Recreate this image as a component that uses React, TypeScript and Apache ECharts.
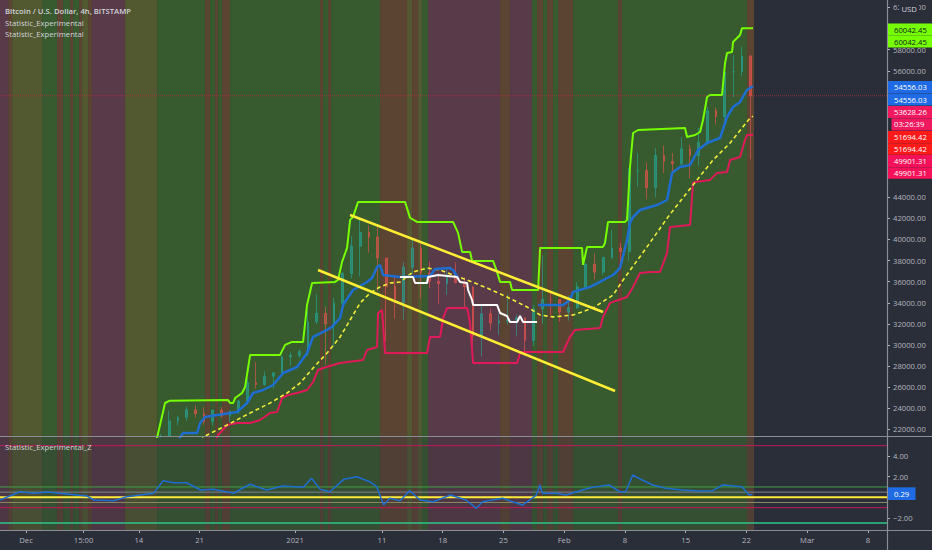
import React, { useEffect, useRef } from "react";
import * as echarts from "echarts";

// ---------- DATA ----------
// Daily OHLC rows [open, high, low, close], starting 2020-11-28
const candleStart = "2020-11-28";
const ohlc: number[][] = [
  [17150, 17880, 16880, 17720], [17720, 18350, 17550, 18180], [18180, 19860, 18180, 19700],
  [19700, 19920, 18120, 18780], [18780, 19300, 18340, 19220], [19220, 19570, 18930, 19440],
  [19440, 19510, 18580, 18650], [18650, 19170, 18500, 19150], [19150, 19420, 18900, 19360],
  [19360, 19410, 18920, 19170], [19170, 19290, 18200, 18320], [18320, 18640, 17650, 18550],
  [18550, 18560, 17910, 18250], [18250, 18290, 17570, 18040], [18040, 18950, 18020, 18800],
  [18800, 19410, 18710, 19170], [19170, 19350, 19000, 19270], [19270, 19570, 19060, 19440],
  [19440, 21560, 19300, 21350], [21350, 23770, 21230, 22800], [22800, 23290, 22350, 23130],
  [23130, 24170, 22800, 23860], [23860, 24280, 23080, 23480], [23480, 24100, 22420, 22740],
  [22740, 23850, 22350, 23820], [23820, 24100, 23070, 23250], [23250, 23790, 22700, 23720],
  [23720, 24790, 23450, 24690], [24690, 26850, 24520, 26440], [26440, 28380, 25850, 26250],
  [26250, 27500, 26100, 27040], [27040, 27390, 25850, 27360], [27360, 28990, 27320, 28860],
  [28860, 29300, 28010, 28990], [28990, 29600, 28800, 29370], [29370, 33300, 28950, 32190],
  [32190, 34800, 32000, 33000], [33000, 33600, 28130, 31990], [31990, 34450, 29900, 33950],
  [33950, 36940, 33300, 36770], [36770, 40300, 36300, 39370], [39370, 41950, 36500, 40670],
  [40670, 41350, 38750, 40240], [40240, 41380, 35100, 38240], [38240, 38250, 30300, 35540],
  [35540, 36600, 32500, 34010], [34010, 37850, 32400, 37370], [37370, 40100, 36700, 39180],
  [39180, 39700, 34400, 36830], [36830, 37900, 35400, 36030], [36030, 36800, 33850, 35820],
  [35820, 37400, 34750, 36610], [36610, 37850, 35850, 35920], [35920, 36400, 33400, 35490],
  [35490, 35600, 30000, 30850], [30850, 33800, 28900, 32950], [32950, 33450, 31400, 32080],
  [32080, 32900, 30950, 32280], [32280, 34800, 31900, 32370], [32370, 32900, 30800, 32570],
  [32570, 32600, 29200, 30430], [30430, 33800, 29900, 33420], [33420, 38500, 31950, 34320],
  [34320, 34900, 32850, 34300], [34300, 34350, 32200, 33110], [33110, 34700, 32300, 33540],
  [33540, 35950, 33420, 35510], [35510, 37700, 35400, 37670], [37670, 38700, 36200, 36900],
  [36900, 38300, 36600, 38290], [38290, 40900, 38150, 39190], [39190, 39700, 37400, 38860],
  [38860, 46800, 37950, 46450], [46450, 48200, 45000, 46550], [46550, 47300, 43800, 44900],
  [44900, 48700, 44000, 47970], [47970, 48900, 46300, 47400], [47400, 48200, 46250, 47180],
  [47180, 49700, 47050, 48600], [48600, 49000, 45800, 47950], [47950, 50600, 47000, 49200],
  [49200, 52600, 48950, 52200], [52200, 52500, 50900, 51650], [51650, 56300, 50750, 55900],
  [55900, 57500, 53500, 55900], [55900, 58300, 55500, 57400], [57400, 57500, 47600, 53628.26],
];

// Indicator lines: [day since 2021-01-01, price]
const upperBand: number[][] = [
  [-16.1, 20500], [-14.98, 24494], [-14.5, 24700], [-7.72, 24778], [-7.49, 24494], [-7.14, 24494],
  [-6.91, 24968], [-6.11, 25442], [-5.76, 26011], [-5.18, 29055], [-1.73, 29055], [-1.15, 30003],
  [-0.35, 30288], [0.92, 30288], [1.38, 33797], [1.96, 35883], [4.61, 35978], [4.95, 36168],
  [5.41, 37875], [5.99, 39202], [6.34, 41858], [6.68, 42142], [7.26, 43565], [12.67, 43565],
  [13.25, 42047], [14.06, 41668], [18.2, 41668], [18.78, 40625], [19.24, 38823], [20.16, 38823],
  [20.39, 37970], [22.81, 37970], [23.27, 36927], [23.62, 35978], [24.77, 35978], [25.0, 35220],
  [28.0, 35220], [28.23, 39202], [33.06, 39202], [33.18, 37590], [33.64, 39297], [35.48, 39297],
  [35.71, 39676], [36.06, 41668], [38.02, 41668], [38.25, 41858], [38.59, 46874], [38.94, 50098],
  [39.52, 50383], [44.93, 50572], [45.16, 49719], [46.08, 49908], [46.66, 50193], [47.0, 51331],
  [47.47, 53512], [47.81, 53702], [49.19, 53702], [49.54, 56737], [49.77, 57685], [50.35, 57780],
  [50.46, 58728], [51.27, 59392], [51.5, 60042.45], [52.76, 60042.45],
];

const basisLine: (number | null)[][] = [
  [-13.82, 20528], [-12.9, 21649], [-11.29, 21649], [-10.94, 22597], [-10.37, 23166], [-8.99, 23356],
  [-6.68, 23640], [-5.53, 24494], [-4.84, 25442], [-3.69, 25727], [-2.53, 26201], [-1.38, 27339],
  [0.23, 27908], [1.38, 29236], [2.07, 30762], [3.69, 31426], [4.26, 31711], [5.18, 32554],
  [5.53, 33788], [6.68, 35210], [8.29, 35969], [8.87, 36348], [9.45, 37391], [9.79, 37581],
  [10.14, 36633], [12.1, 36443], [15.55, 36538], [16.13, 37201], [17.86, 37296], [18.2, 37107],
  [18.78, 36348], [23.0, null], [28.0, 33797], [30.88, 33797], [31.68, 34271], [32.03, 35030],
  [32.83, 35220], [33.99, 35504], [35.14, 35978], [35.94, 36348], [36.64, 36633], [37.44, 37296],
  [38.25, 39952], [38.59, 41564], [38.94, 42133], [39.75, 42797], [41.71, 43271], [42.86, 43745],
  [43.43, 46306], [44.35, 46875], [45.51, 47064], [46.43, 48487], [47.47, 49151], [48.96, 49625],
  [49.77, 51616], [50.46, 52565], [51.27, 53039], [52.07, 54177], [52.76, 54556.03],
];

const basisAlt: number[][] = [
  [12.1, 36443], [13.59, 36443], [13.82, 35874], [15.21, 35874], [15.32, 36443], [16.47, 36633],
  [18.66, 36443], [19.01, 35969], [19.82, 35874], [19.93, 35210], [20.39, 34262], [20.51, 33797],
  [23.27, 33797], [23.62, 33030], [24.42, 32745], [24.77, 32176], [25.58, 32176], [25.92, 32745],
  [26.27, 32176], [27.88, 32176],
];

const slowLine: number[][] = [
  [-10.94, 20985], [-10.14, 21460], [-7.83, 22408], [-5.18, 23546], [-2.88, 24494], [-0.92, 25442],
  [0.58, 26391], [2.07, 27813], [3.69, 29236], [5.18, 30753], [6.34, 32365], [7.49, 33977],
  [8.64, 34925], [9.79, 35504], [10.94, 35874], [12.1, 35969], [13.59, 36917], [15.21, 37296],
  [16.71, 37107], [18.2, 36633], [19.82, 36159], [22.12, 35400], [24.42, 34547], [26.73, 33598],
  [28.23, 32839], [29.72, 32660], [32.03, 32839], [34.33, 33503], [36.64, 34737], [37.79, 36159],
  [40.55, 39297], [42.97, 42142], [46.31, 45651], [48.16, 47538], [50.12, 49150], [52.42, 51521],
  [52.76, 51694.42],
];

const lowerBand: number[][] = [
  [-9.1, 20985], [-8.87, 21460], [-7.83, 22408], [-6.68, 22598], [-5.18, 22598], [-4.03, 22882],
  [-2.88, 23546], [-2.07, 23640], [-1.5, 24968], [-0.81, 25253], [0.23, 25442], [1.38, 25727],
  [2.07, 26485], [2.65, 27623], [3.23, 27813], [5.18, 28287], [7.83, 28572], [8.29, 29520],
  [9.45, 29804], [9.56, 33029], [10.02, 33313], [10.37, 29235], [15.21, 29235], [15.55, 30762],
  [16.71, 30762], [17.05, 32554], [17.51, 33503], [19.82, 33503], [20.16, 32080], [20.51, 28287],
  [25.58, 28287], [25.92, 29235], [26.27, 29330], [30.88, 29330], [31.34, 30183], [31.68, 30762],
  [32.26, 31426], [35.14, 31616], [35.48, 32659], [36.29, 33987], [38.25, 34547], [38.94, 35504],
  [39.75, 36831], [40.9, 36917], [42.05, 36917], [42.86, 38728], [43.2, 41193], [45.51, 41383],
  [45.85, 45366], [46.08, 45461], [47.81, 45651], [48.62, 46314], [49.77, 46409], [50.12, 47538],
  [51.27, 47823], [51.84, 49435], [52.07, 49901.31], [52.76, 49901.31],
];

const trendUpper: number[][] = [[6.34, 42322], [35.48, 33124]];
const trendLower: number[][] = [[2.65, 37106], [36.87, 25632]];
const lastPrice = 53628.26;

// Regime stripes: edges (days) and state per interval
const stripeEdges = [
  -34.0, -33.06, -32.6, -29.15, -27.42, -26.73, -25.92, -25.58, -24.88, -24.54, -23.85, -23.39,
  -19.59, -15.9, -10.37, -9.79, -9.22, -8.87, -8.41, -7.49, 2.88, 3.23, 3.8, 4.15, 9.79, 12.9,
  13.48, 14.17, 14.63, 15.32, 23.62, 24.77, 27.3, 27.88, 28.57, 29.03, 29.72, 30.3, 32.03, 37.21,
  37.67, 52.07, 52.88,
];
const stripeStates = [
  "p", "b", "o", "g", "b", "g", "b", "g", "b", "o", "b", "p", "o", "g", "b", "g", "b", "g", "b",
  "g", "b", "g", "b", "g", "b", "o", "b", "o", "g", "p", "b", "p", "g", "b", "g", "b", "g", "b",
  "g", "b", "g", "b",
];

// Z oscillator
const zDays = [
  -34.0, -31.7, -30.1, -28.6, -26.3, -24.0, -23.2, -20.9, -19.4, -16.3, -15.2, -14.0, -12.5, -10.9,
  -9.4, -7.1, -5.2, -3.3, -1.4, 0.96, 1.9, 2.9, 4.0, 5.6, 7.1, 8.6, 9.4, 10.2, 10.9, 12.1, 13.2,
  14.4, 15.9, 17.9, 19.7, 20.9, 21.6, 23.9, 26.2, 27.8, 28.2, 28.5, 30.1, 31.2, 33.1, 34.3, 36.2,
  37.4, 38.1, 38.9, 40.0, 41.2, 42.7, 44.6, 46.6, 48.1, 49.3, 51.5, 52.3, 52.7,
];
const zValues = [
  -0.26, 0.54, 0.39, 0.51, 0.32, 0.13, -0.26, -0.33, 0.06, 0.39, 1.61, 1.41, 1.41, 0.71, 0.77, 0.39,
  1.26, 0.71, 1.09, 0.97, 1.84, 0.77, 0.54, 1.74, 1.99, 1.51, 1.03, -0.75, -0.1, -0.33, 0.64, -0.26,
  -0.43, 0.22, -0.26, -1.07, -0.43, -0.1, -0.75, 0.22, 1.19, 0.39, 0.39, 0.22, 0.71, 0.97, 1.19,
  0.54, 0.54, 2.16, 1.67, 1.19, 0.87, 0.71, 0.61, 0.64, 1.19, 1.03, 0.22, 0.29,
];
const zLevels = [5, 1, 0.5, 0, -0.5, -1, -2.5];

// Axis ticks (labels hidden behind the price tags are not listed in the label set)
const priceTicks = [
  22000, 24000, 26000, 28000, 30000, 32000, 34000, 36000, 38000, 40000, 42000, 44000, 46000, 48000,
  50000, 52000, 54000, 56000, 58000, 60000, 62000,
];
const priceLabels = [
  22000, 24000, 26000, 28000, 30000, 32000, 34000, 36000, 38000, 40000, 42000, 44000, 56000, 58000,
  62000,
];
const zTicks = [-2, 2, 4];
const timeTicks = [-31, -24.375, -18, -11, 0, 10, 17, 24, 31, 38, 45, 52, 59, 66];
const timeLabels = ["Dec", "15:00", "14", "21", "2021", "11", "18", "25", "Feb", "8", "15", "22", "Mar", "8"];

// ---------- CHART ----------
const FONT = "Open Sans";
const FS = 7.7;
const X_MIN = -34;
const X_MAX = 68.2;
const P_MIN = 21270;
const P_MAX = 62711;
const Z_MIN = -3.166;
const Z_MAX = 5.837;

const mainColors: Record<string, string> = { g: "#375a2e", p: "#583a48", o: "#525830", b: "#5c4432" };
const lowColors: Record<string, string> = { g: "#344f31", p: "#4d3744", o: "#484e34", b: "#503f34" };
const levelColors = ["#c2185b", "#43a047", "#7d8590", "#ffeb3b", "#8a8a62", "#c2185b", "#2fc48a"];
const levelWidths = [1, 1, 1, 2, 1, 1, 1.5];

function dayIndex(iso: string): number {
  const [y, m, d] = iso.split("-").map(Number);
  return (Date.UTC(y, m - 1, d) - Date.UTC(2021, 0, 1)) / 86400000;
}

function buildOption(): any {
  const codes = ["g", "p", "o", "b"];
  const stripeData = stripeStates.map((s, i) => [stripeEdges[i], stripeEdges[i + 1], codes.indexOf(s)]);
  const d0 = dayIndex(candleStart);
  // values below the pane floor are clamped so that the pane clips candles cleanly
  const cl = (v: number) => Math.max(v, P_MIN);
  const candles = ohlc
    .map((r, i) => [d0 + i + 0.5, cl(r[0]), cl(r[3]), cl(r[2]), cl(r[1])])
    .filter((c) => c[4] > P_MIN);
  const zData = zDays.map((d, i) => [d, zValues[i]]);

  const stripeSeries = (gi: number, palette: Record<string, string>, yRef: number) => ({
    type: "custom",
    xAxisIndex: gi,
    yAxisIndex: gi,
    z: 0,
    silent: true,
    encode: { x: [0, 1] },
    data: stripeData,
    renderItem: (params: any, api: any) => {
      const cs = params.coordSys;
      const x0 = api.coord([api.value(0), yRef])[0];
      const x1 = api.coord([api.value(1), yRef])[0];
      return {
        type: "rect",
        shape: { x: x0, y: cs.y, width: x1 - x0, height: cs.height },
        style: { fill: palette[codes[api.value(2)]] },
      };
    },
  });

  const line = (data: any[], color: string, width: number, extra: any = {}, gi = 0, z = 3) => ({
    type: "line",
    xAxisIndex: gi,
    yAxisIndex: gi,
    data,
    showSymbol: false,
    symbol: "none",
    clip: true,
    silent: true,
    z,
    lineStyle: { color, width, ...extra },
  });

  const axisLabelBase = { color: "#b2b5be", fontSize: FS, fontFamily: FONT };

  const series: any[] = [
    stripeSeries(0, mainColors, 30000),
    stripeSeries(1, lowColors, 0),
    {
      type: "candlestick",
      xAxisIndex: 0,
      yAxisIndex: 0,
      data: candles,
      encode: { x: 0, y: [1, 2, 3, 4] },
      barWidth: 2.2,
      clip: true,
      silent: true,
      z: 2,
      itemStyle: {
        color: "rgba(38,166,154,0.6)",
        color0: "rgba(239,83,80,0.6)",
        borderColor: "rgba(38,166,154,0.6)",
        borderColor0: "rgba(239,83,80,0.6)",
        borderWidth: 1,
      },
    },
    line([[X_MIN, lastPrice], [X_MAX, lastPrice]], "rgba(200,40,70,0.75)", 1, { type: "dotted" }, 0, 2),
    line(upperBand, "#76ff03", 2),
    line(lowerBand, "#e0195a", 2),
    line(slowLine, "#f2ee3a", 1.6, { type: [4, 3] }),
    line(basisLine, "#1e6ed2", 2.5),
    line(basisAlt, "#ffffff", 2),
    line(trendUpper, "#ffee33", 2.5, {}, 0, 4),
    line(trendLower, "#ffee33", 2.5, {}, 0, 4),
  ];
  zLevels.forEach((lv, i) => {
    series.push(line([[X_MIN, lv], [X_MAX, lv]], levelColors[i], levelWidths[i], {}, 1, 2));
  });
  series.push(line(zData, "#1e6ed2", 1.5, {}, 1, 4));

  const txt = (x: number, y: number, text: string, fill: string, weight: any = "normal") => ({
    type: "text",
    z: 101,
    silent: true,
    style: { x, y, text, fill, fontSize: FS, fontFamily: FONT, fontWeight: weight, verticalAlign: "middle", align: "left" },
  });
  const tag = (y: number, h: number, fill: string, tc: string, label: string, x0 = 888, x1 = 932) => [
    { type: "rect", z: 100, silent: true, shape: { x: x0, y, width: x1 - x0, height: h }, style: { fill } },
    txt(x0 === 888 ? 894 : x0 + 2.5, y + h / 2, label, tc),
  ];
  const hline = (y: number, x0: number, x1: number, stroke: string, w = 1) => ({
    type: "line", z: 99, silent: true, shape: { x1: x0, y1: y, x2: x1, y2: y }, style: { stroke, lineWidth: w },
  });

  const graphic: any[] = [
    hline(436.5, 0, 932, "#8a8d96", 1.2),
    hline(530.5, 0, 932, "#8a8d96", 1.2),
    { type: "line", z: 99, silent: true, shape: { x1: 887.5, y1: 0, x2: 887.5, y2: 550 }, style: { stroke: "#8a8d96", lineWidth: 1.2 } },
    txt(5, 11.2, "Bitcoin / U.S. Dollar, 4h, BITSTAMP", "#d1d4dc", 600),
    txt(5, 22.7, "Statistic_Experimental", "#d1d4dc"),
    txt(5, 33.7, "Statistic_Experimental", "#d1d4dc"),
    txt(5, 447.3, "Statistic_Experimental_Z", "#d1d4dc"),
    { type: "rect", z: 100, silent: true, shape: { x: 899, y: 3, width: 20, height: 12 }, style: { fill: "#2a2e39" } },
    txt(901.5, 9, "USD", "#d1d4dc"),
    ...tag(23.5, 12, "#76ff03", "#131722", "60042.45"),
    ...tag(35.5, 12, "#76ff03", "#131722", "60042.45"),
    ...tag(81, 12.3, "#1f6be6", "#ffffff", "54556.03"),
    ...tag(93.5, 12, "#1f6be6", "#ffffff", "54556.03"),
    ...tag(106, 12, "#f0185f", "#ffffff", "53628.26"),
    ...tag(118.3, 12.3, "#f0185f", "#ffffff", "03:26:39", 891.5),
    ...tag(131, 12, "#ff1a1a", "#ffffff", "51694.42"),
    ...tag(143.2, 11.5, "#ff1a1a", "#ffffff", "51694.42"),
    ...tag(155, 12, "#f5115a", "#ffffff", "49901.31"),
    ...tag(167.3, 11.5, "#f5115a", "#ffffff", "49901.31"),
    ...tag(487.3, 12.7, "#1f6be6", "#ffffff", "0.29", 888, 915.5),
  ];

  return {
    animation: false,
    backgroundColor: "#2a2e39",
    textStyle: { fontFamily: FONT },
    grid: [
      { left: 0, top: 0, width: 887, height: 437 },
      { left: 0, top: 437, width: 887, height: 93 },
    ],
    xAxis: [
      {
        type: "value", gridIndex: 0, min: X_MIN, max: X_MAX,
        axisLine: { show: false, onZero: false }, axisTick: { show: false }, axisLabel: { show: false }, splitLine: { show: false },
      },
      {
        type: "value", gridIndex: 1, min: X_MIN, max: X_MAX, position: "bottom",
        axisLine: { show: false, onZero: false },
        axisTick: { show: true, length: 3, inside: false, customValues: timeTicks, lineStyle: { color: "#b2b5be" } },
        axisLabel: {
          ...axisLabelBase,
          margin: 6,
          customValues: timeTicks,
          formatter: (v: number) => {
            const i = timeTicks.findIndex((t) => Math.abs(t - v) < 1e-6);
            return i >= 0 ? timeLabels[i] : "";
          },
        },
        splitLine: { show: false },
      },
    ],
    yAxis: [
      {
        type: "value", gridIndex: 0, position: "right", min: P_MIN, max: P_MAX,
        axisLine: { show: false, onZero: false },
        axisTick: { show: true, length: 3, customValues: priceTicks, lineStyle: { color: "#b2b5be" } },
        axisLabel: { ...axisLabelBase, margin: 6, customValues: priceLabels, formatter: (v: number) => v.toFixed(2) },
        splitLine: { show: false },
      },
      {
        type: "value", gridIndex: 1, position: "right", min: Z_MIN, max: Z_MAX,
        axisLine: { show: false, onZero: false },
        axisTick: { show: true, length: 3, customValues: zTicks, lineStyle: { color: "#b2b5be" } },
        axisLabel: {
          ...axisLabelBase, margin: 6, customValues: zTicks,
          formatter: (v: number) => (v < 0 ? "\u2212" + Math.abs(v).toFixed(2) : v.toFixed(2)),
        },
        splitLine: { show: false },
      },
    ],
    series,
    graphic,
  };
}

export default function App() {
  const ref = useRef<HTMLDivElement>(null);
  useEffect(() => {
    if (!ref.current) return;
    const chart = echarts.init(ref.current, undefined, { renderer: "svg" });
    chart.setOption(buildOption());
    return () => chart.dispose();
  }, []);
  return <div ref={ref} style={{ position: "fixed", left: 0, top: 0, width: 932, height: 550 }} />;
}
